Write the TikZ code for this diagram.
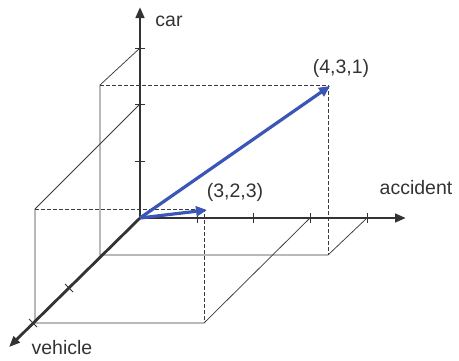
\documentclass[tikz,border=0pt]{standalone}
\usepackage{fontspec}
\setmainfont{Liberation Sans}
\usetikzlibrary{arrows.meta}
\definecolor{axisgray}{HTML}{333333}
\definecolor{linegray}{HTML}{3A3A3A}
\definecolor{vecblue}{HTML}{3B56B6}
\tikzset{
  axisline/.style={draw=axisgray, line width=2.8pt, -{Triangle[length=11pt,width=8.5pt]}},
  vecline/.style={draw=vecblue, line width=3.2pt, -{Triangle[length=11pt,width=10pt]}},
  thinline/.style={draw=linegray, line width=0.75pt},
  dashline/.style={draw=linegray, line width=0.8pt, dash pattern=on 3.5pt off 2.5pt},
  tickline/.style={draw=axisgray, line width=0.8pt},
  lbl/.style={text=axisgray, font=\fontsize{19.5}{22}\selectfont, inner sep=0pt}
}
\begin{document}
\begin{tikzpicture}[x=1pt,y=-1pt]
\useasboundingbox (0,0) rectangle (459,360);
% key points
\coordinate (O) at (140,218);
\coordinate (A) at (406,218);
\coordinate (C) at (140,7);
\coordinate (V) at (9,347);
\coordinate (P) at (330,86);
\coordinate (Q) at (207,210);
% box for (4,3,1)
\coordinate (c3) at (140,48);
\coordinate (p1) at (100,85);
\coordinate (p2) at (100,255);
\coordinate (p3) at (328,255);
\coordinate (p4) at (328,85);
\coordinate (a4) at (367,218);
% box for (3,2,3)
\coordinate (c2) at (140,104);
\coordinate (q1) at (35,209);
\coordinate (q2) at (35,323);
\coordinate (q3) at (204,323);
\coordinate (q4) at (204,209);
\coordinate (a3) at (310,218);
% thin solid lines
\draw[thinline] (c3) -- (p1) -- (p2) -- (p3) -- (a4);
\draw[thinline] (c2) -- (q1) -- (q2) -- (q3) -- (a3);
% dashed lines
\draw[dashline] (p1) -- (p4) -- (p3);
\draw[dashline] (q1) -- (q4) -- (q3);
% ticks
\foreach \x in {197,253,310,367} \draw[tickline] (\x,213) -- (\x,223);
\foreach \y in {48,104,161} \draw[tickline] (135,\y) -- (145,\y);
\foreach \px/\py in {69/288,33/323} \draw[tickline] (\px-4,\py-4) -- (\px+4,\py+4);
% axes
\draw[axisline] (O) -- (A);
\draw[axisline] (O) -- (C);
\draw[axisline] (O) -- (V);
% vectors
\draw[vecline] (O) -- (P);
\draw[vecline] (O) -- (Q);
% labels
\node[lbl] (lcar) at (169,21) {car};
\node[lbl] (lacc) at (416,188) {accident};
\node[lbl] (lveh) at (62,348) {vehicle};
\node[lbl] (l431) at (341,68) {(4,3,1)};
\node[lbl] (l323) at (235,192) {(3,2,3)};
\end{tikzpicture}
\end{document}
